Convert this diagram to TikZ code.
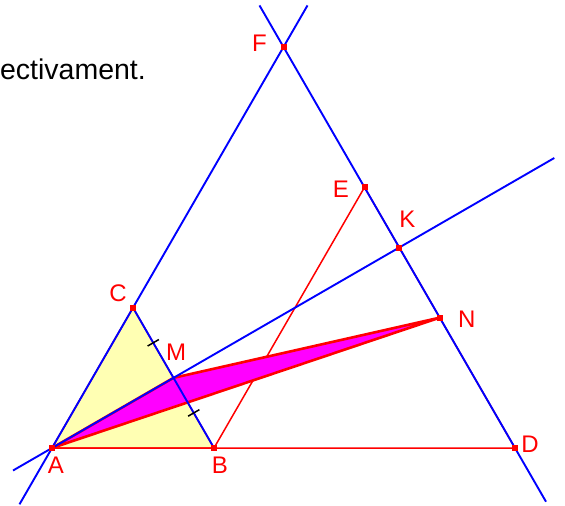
\documentclass[tikz,border=0pt]{standalone}
\usepackage{fontspec}
\setmainfont{Liberation Sans}
\usetikzlibrary{calc, positioning}
\definecolor{pale}{HTML}{FFFFB3}
\definecolor{pink}{HTML}{FF00FF}

\begin{document}
\begin{tikzpicture}[
  x=1pt, y=-1pt,
  bline/.style={blue, line width=1.9pt},
  rline/.style={red, line width=1.5pt},
  pt/.style={rectangle, fill=red, minimum size=6pt, inner sep=0pt},
  lab/.style={text=red, font=\fontsize{24}{28}\selectfont, inner sep=0pt},
  tick/.style={draw=black, line width=1.5pt, sloped, minimum width=0pt, minimum height=13pt, inner sep=0pt}
]
\useasboundingbox (0,0) rectangle (565,506);

\coordinate (A) at (52,448);
\coordinate (B) at (214,448);
\coordinate (C) at (133,307.7);
\coordinate (D) at (515,448);
\coordinate (E) at (364.5,187.3);
\coordinate (F) at (283.5,47);
\coordinate (M) at ($(B)!0.5!(C)$);
\coordinate (N) at ($(E)!0.5!(D)$);
\coordinate (K) at (intersection of A--M and F--D);

\coordinate (a1) at ($(A)!-65pt!(F)$);
\coordinate (a2) at ($(F)!-48pt!(A)$);
\coordinate (d1) at ($(F)!-48pt!(D)$);
\coordinate (d2) at ($(D)!-62pt!(F)$);
\coordinate (k1) at ($(A)!-45pt!(M)$);
\coordinate (k2) at ($(A)!580pt!(M)$);

\filldraw[rline, fill=pale] (A) -- (B) -- (C) -- cycle;
\draw[rline] (A) -- (D) -- (E) -- (B);
\filldraw[red, line width=2.6pt, line join=round, fill=pink] (A) -- (M) -- (N) -- cycle;

\draw[bline] (a1) -- (a2);
\draw[bline] (d1) -- (d2);
\draw[bline] (k1) -- (k2);
\draw[bline] (C) -- (M) node[midway, tick] (t1) {} -- (B) node[midway, tick] (t2) {};

\foreach \p in {A,B,C,D,E,F,K,N}
  \node[pt] (p\p) at (\p) {};

\node[lab] (lA) at ($(A)+(4,17)$) {A};
\node[lab] (lB) at ($(B)+(6,17)$) {B};
\node[lab] (lC) at ($(C)+(-15,-14)$) {C};
\node[lab] (lM) at ($(M)+(2.5,-26)$) {M};
\node[lab] (lD) at ($(D)+(15,-4)$) {D};
\node[lab] (lE) at ($(E)+(-23.5,2)$) {E};
\node[lab] (lF) at ($(F)+(-24,-4)$) {F};
\node[lab] (lK) at ($(K)+(8,-28)$) {K};
\node[lab] (lN) at ($(N)+(27,2)$) {N};

\node[anchor=base east, inner sep=0pt, font=\fontsize{28.5}{34}\selectfont] (txt) at (146,79) {ectivament.};
\end{tikzpicture}
\end{document}
